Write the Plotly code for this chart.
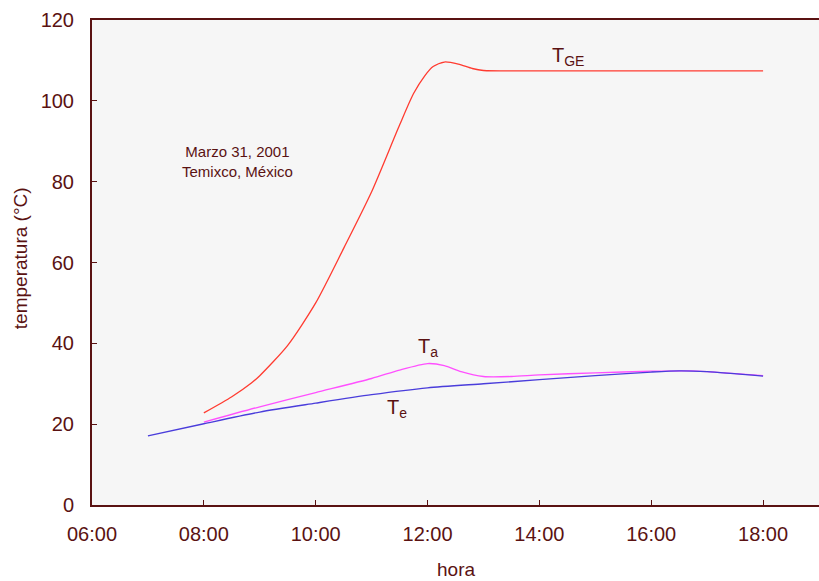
import plotly.graph_objects as go

# Data (hours, °C)
tge_h = [8.0, 8.5, 8.85, 9.0, 9.5, 10.0, 10.5, 11.0, 11.5, 11.75, 11.95, 12.1, 12.3, 12.55, 12.8, 13.0, 14.0, 15.0, 16.0, 17.0, 18.0]
tge_v = [22.8, 26.8, 30.2, 32.0, 39.5, 50.0, 63.5, 77.5, 94.0, 101.8, 106.2, 108.5, 109.6, 109.1, 108.0, 107.5, 107.4, 107.4, 107.4, 107.4, 107.4]

ta_h = [8.0, 9.0, 10.0, 11.0, 11.5, 12.0, 12.3, 12.6, 13.0, 13.5, 14.0, 15.0, 16.0, 16.7, 17.0, 18.0]
ta_v = [20.5, 24.3, 27.8, 31.3, 33.4, 35.0, 34.5, 33.0, 31.8, 31.8, 32.2, 32.7, 33.1, 33.2, 33.0, 32.0]

te_h = [7.0, 8.0, 9.0, 10.0, 11.0, 12.0, 13.0, 14.0, 15.0, 16.0, 16.5, 17.0, 18.0]
te_v = [17.1, 20.1, 23.0, 25.2, 27.3, 29.0, 30.0, 31.0, 32.0, 32.9, 33.2, 33.0, 31.9]

x_ticks = [6, 8, 10, 12, 14, 16, 18]
x_labels = ["06:00", "08:00", "10:00", "12:00", "14:00", "16:00", "18:00"]
y_ticks = [0, 20, 40, 60, 80, 100, 120]

TXT = "#5a1212"
FONT = "Liberation Sans, Arial, sans-serif"

fig = go.Figure()
fig.add_trace(go.Scatter(x=tge_h, y=tge_v, mode="lines", line=dict(color="#ff3b30", width=1.3, shape="spline", smoothing=0.7)))
fig.add_trace(go.Scatter(x=ta_h, y=ta_v, mode="lines", line=dict(color="#ff50ff", width=1.3, shape="spline", smoothing=0.7)))
fig.add_trace(go.Scatter(x=te_h, y=te_v, mode="lines", line=dict(color="#4a3ddb", width=1.3, shape="spline", smoothing=0.7)))

annots = [
    dict(x=14.52, y=110.9, xref="x", yref="y", text="T<sub>GE</sub>", font=dict(size=20)),
    dict(x=12.0, y=38.9, xref="x", yref="y", text="T<sub>a</sub>", font=dict(size=20)),
    dict(x=11.45, y=23.9, xref="x", yref="y", text="T<sub>e</sub>", font=dict(size=20)),
    dict(x=8.6, y=84.9, xref="x", yref="y", text="Marzo 31, 2001<br>Temixco, México", font=dict(size=15)),
    dict(x=0.5, y=-0.134, xref="paper", yref="paper", text="hora", font=dict(size=19)),
    dict(x=-0.099, y=0.509, xref="paper", yref="paper", text="temperatura (°C)", textangle=-90, font=dict(size=19)),
]
for a in annots:
    a.update(showarrow=False, xanchor="center", yanchor="middle")
    a["font"].update(color=TXT, family=FONT)
fig.update_layout(annotations=annots)

fig.update_layout(
    width=819, height=581,
    margin=dict(l=92, r=0, t=20, b=76),
    paper_bgcolor="white",
    plot_bgcolor="#f6f6f6",
    showlegend=False,
    font=dict(family=FONT, color=TXT, size=20),
    xaxis=dict(
        range=[6, 19], tickvals=x_ticks, ticktext=x_labels, automargin=False,
        showgrid=False, zeroline=False, showline=True, linecolor=TXT, linewidth=2,
        mirror=True, ticks="inside", ticklen=5, tickcolor=TXT, tickwidth=1,
        ticklabelstandoff=10, tickfont=dict(size=20),
    ),
    yaxis=dict(
        range=[0, 120], tickvals=y_ticks, automargin=False,
        showgrid=False, zeroline=False, showline=True, linecolor=TXT, linewidth=2,
        ticks="inside", ticklen=5, tickcolor=TXT, tickwidth=1,
        ticklabelstandoff=12, tickfont=dict(size=20),
    ),
)

fig.write_html("out.html")
